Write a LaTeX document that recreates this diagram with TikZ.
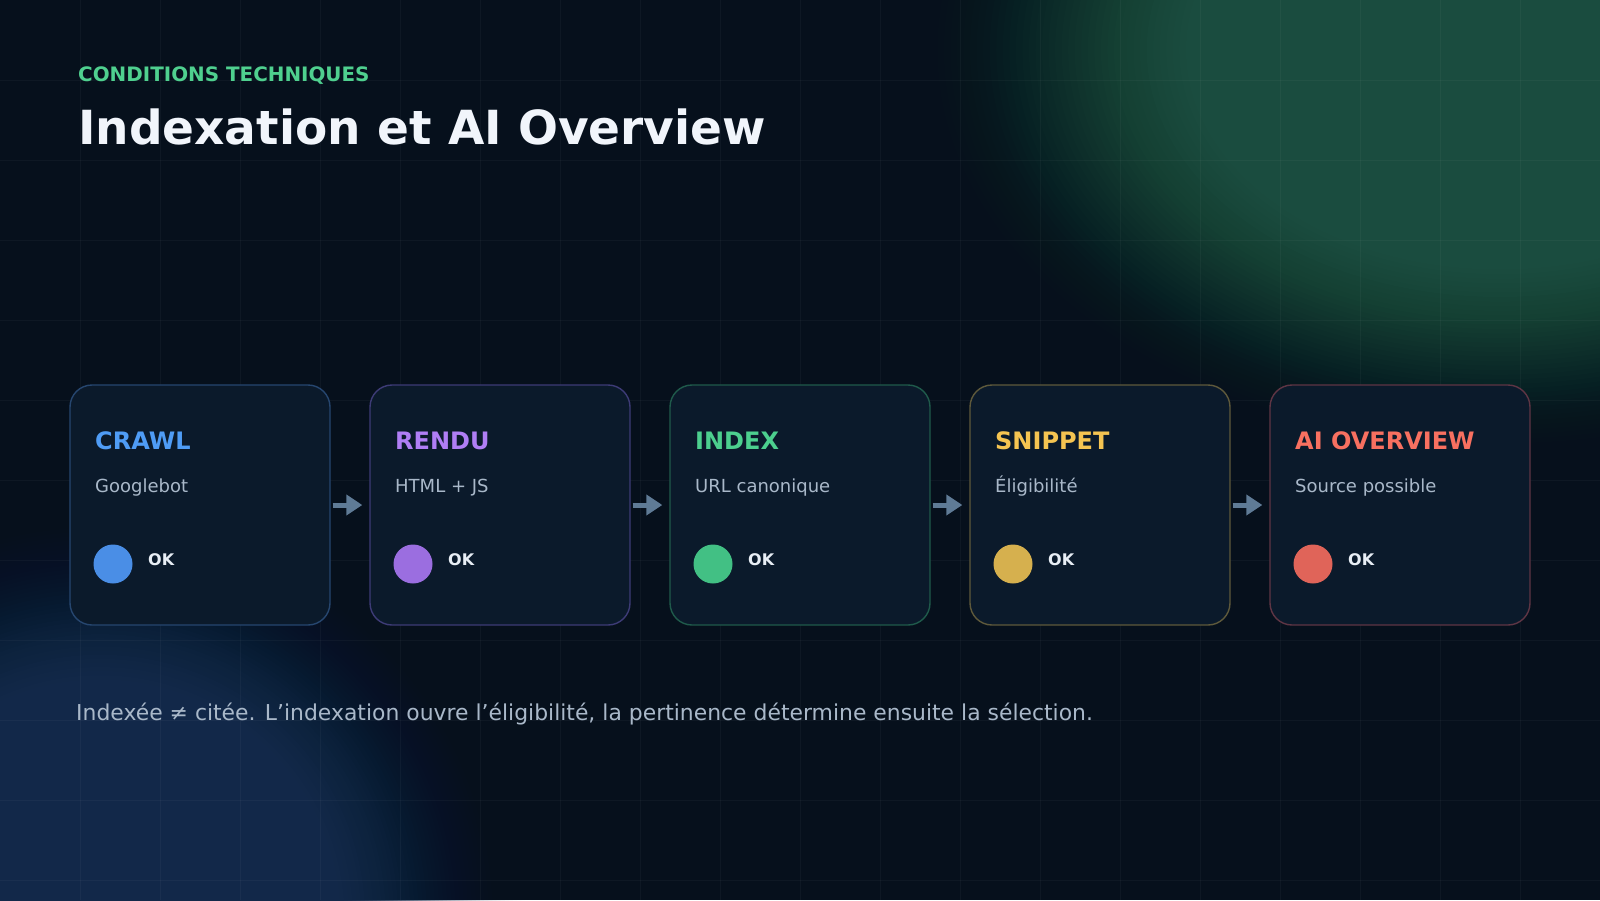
\documentclass[tikz,border=0pt]{standalone}
\usepackage{fontspec}
\setmainfont{DejaVu Sans}
\usetikzlibrary{arrows.meta}

\definecolor{bgcol}{HTML}{06101C}
\definecolor{glowgreen}{HTML}{1B4D40}
\definecolor{glowblue}{HTML}{13294A}
\definecolor{cardfill}{HTML}{0B1A2B}
\definecolor{kicker}{HTML}{4FD08F}
\definecolor{headline}{HTML}{F1F5FB}
\definecolor{subtext}{HTML}{A9B8C9}
\definecolor{oktext}{HTML}{E8EEF5}
\definecolor{flowcol}{HTML}{5F7B96}
\definecolor{crawlcol}{HTML}{4F9CF5}
\definecolor{crawldotcol}{HTML}{4A8EE6}
\definecolor{crawlline}{HTML}{26466F}
\definecolor{renducol}{HTML}{B07EF5}
\definecolor{renducotcol}{HTML}{9B6EE0}
\definecolor{renduline}{HTML}{3D3B76}
\definecolor{indexcol}{HTML}{4CCF8E}
\definecolor{indexdotcol}{HTML}{42C084}
\definecolor{indexline}{HTML}{1F5A4B}
\definecolor{snippetcol}{HTML}{F5C451}
\definecolor{snippetdotcol}{HTML}{D6B04E}
\definecolor{snippetline}{HTML}{5E593B}
\definecolor{aiocol}{HTML}{F87060}
\definecolor{aiodotcol}{HTML}{E06459}
\definecolor{aioline}{HTML}{5E3544}

\tikzset{
  gridline/.style={draw=white, opacity=0.035, line width=1pt},
  card/.style={draw=#1, fill=cardfill, line width=1.4pt, rounded corners=22pt,
    minimum width=260pt, minimum height=240pt, inner sep=0pt},
  cardtitle/.style={anchor=base west, inner sep=0pt, text=#1,
    font=\fontsize{24}{28}\selectfont\bfseries},
  cardsub/.style={anchor=base west, inner sep=0pt, text=subtext,
    font=\fontsize{18}{22}\selectfont},
  okdot/.style={circle, fill=#1, minimum size=39pt, inner sep=0pt},
  oklabel/.style={anchor=base west, inner sep=0pt, text=oktext,
    font=\fontsize{16}{20}\selectfont\bfseries},
  flow/.style={draw=flowcol, line width=5pt, -{Triangle[length=16pt,width=20pt]},
    shorten <=2pt, shorten >=7pt}
}

\begin{document}
\begin{tikzpicture}[x=1pt,y=-1pt]
    \useasboundingbox (0,0) rectangle (1600,900);
    % background and glows (stacked layers, smooth falloff)
    \fill[bgcol] (0,0) rectangle (1600,900);
    \begin{scope}
    \clip (0,0) rectangle (1600,900);
    \foreach \k in {1,...,48} {
      \pgfmathsetmacro\ta{(\k-1)/48}
      \pgfmathsetmacro\tb{\k/48}
      \pgfmathsetmacro\Ta{3*\ta*\ta-2*\ta*\ta*\ta}
      \pgfmathsetmacro\Tb{3*\tb*\tb-2*\tb*\tb*\tb}
      \pgfmathsetmacro\op{(\Tb-\Ta)/(1-\Ta)}
      \pgfmathsetmacro\sc{1-0.5*(\k-1)/47}
      \fill[glowgreen, opacity=\op] (1500,50) ellipse [x radius=615*\sc, y radius=430*\sc];
      \pgfmathsetmacro\sd{1-0.45*(\k-1)/47}
      \fill[glowblue, opacity=\op] (100,920) circle [radius=430*\sd];
    }
    \end{scope}
    \foreach \gx in {80,160,...,1520} \draw[gridline] (\gx,0) -- (\gx,900);
    \foreach \gy in {80,160,...,880} \draw[gridline] (0,\gy) -- (1600,\gy);

    % heading
    \node [anchor=base west, inner sep=0pt, text=kicker, font=\fontsize{19.9}{24}\selectfont\bfseries] (kicker) at (78,81) {CONDITIONS TECHNIQUES};
    \node [anchor=base west, inner sep=0pt, text=headline, font=\fontsize{47}{56}\selectfont\bfseries] (title) at (78,144) {Indexation et AI Overview};

    % cards
    \node [card=crawlline] (crawl) at (200,505) {};
    \node [card=renduline] (rendu) at (500,505) {};
    \node [card=indexline] (index) at (800,505) {};
    \node [card=snippetline] (snippet) at (1100,505) {};
    \node [card=aioline] (aio) at (1400,505) {};

    \node [cardtitle=crawlcol] (crawltitle) at (95,449) {CRAWL};
    \node [cardsub] (crawlsub) at (95,492) {Googlebot};
    \node [okdot=crawldotcol] (crawldot) at (113,564) {};
    \node [oklabel] (crawlok) at (148,565) {OK};

    \node [cardtitle=renducol] (rendutitle) at (395,449) {RENDU};
    \node [cardsub] (rendusub) at (395,492) {HTML + JS};
    \node [okdot=renducotcol] (rendudot) at (413,564) {};
    \node [oklabel] (renduok) at (448,565) {OK};

    \node [cardtitle=indexcol] (indextitle) at (695,449) {INDEX};
    \node [cardsub] (indexsub) at (695,492) {URL canonique};
    \node [okdot=indexdotcol] (indexdot) at (713,564) {};
    \node [oklabel] (indexok) at (748,565) {OK};

    \node [cardtitle=snippetcol] (snippettitle) at (995,449) {SNIPPET};
    \node [cardsub] (snippetsub) at (995,492) {Éligibilité};
    \node [okdot=snippetdotcol] (snippetdot) at (1013,564) {};
    \node [oklabel] (snippetok) at (1048,565) {OK};

    \node [cardtitle=aiocol] (aiotitle) at (1295,449) {AI OVERVIEW};
    \node [cardsub] (aiosub) at (1295,492) {Source possible};
    \node [okdot=aiodotcol] (aiodot) at (1313,564) {};
    \node [oklabel] (aiook) at (1348,565) {OK};

    % flow arrows
    \draw [flow] (crawl.east) -- (rendu.west);
    \draw [flow] (rendu.east) -- (index.west);
    \draw [flow] (index.east) -- (snippet.west);
    \draw [flow] (snippet.east) -- (aio.west);

    % footnote
    \node [anchor=base west, inner sep=0pt, text=subtext, font=\fontsize{21.9}{26}\selectfont] (note) at (76,720) {Indexée ≠ citée. L’indexation ouvre l’éligibilité, la pertinence détermine ensuite la sélection.};
\end{tikzpicture}
\end{document}
